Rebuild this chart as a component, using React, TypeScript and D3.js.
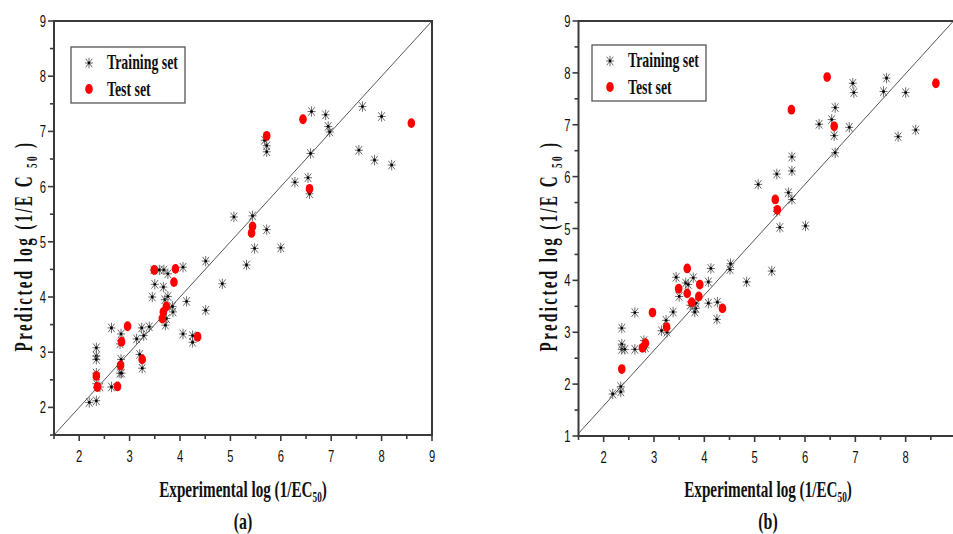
import React from "react";
import * as d3 from "d3";

// ---------- data ----------
const trainA: [number, number][] = [
  [2.2, 2.09], [2.34, 2.12], [2.34, 3.08], [2.34, 2.93], [2.34, 2.87], [2.34, 2.62], [2.34, 2.43],
  [2.41, 2.37], [2.64, 2.37], [2.64, 3.44], [2.83, 3.33], [2.81, 3.15], [2.83, 2.87], [2.81, 2.62],
  [2.84, 2.62], [3.14, 3.24], [3.24, 3.44], [3.28, 3.3], [3.2, 2.96], [3.25, 2.71], [3.39, 3.46],
  [3.45, 4.0], [3.5, 4.23], [3.48, 4.49], [3.59, 4.49], [3.68, 4.49], [3.67, 4.18], [3.7, 3.95],
  [3.76, 4.01], [3.76, 4.42], [3.71, 3.49], [3.73, 3.61], [3.86, 3.73], [3.85, 3.83], [4.06, 4.54],
  [4.13, 3.92], [4.06, 3.33], [4.25, 3.3], [4.25, 3.18], [4.51, 3.76], [4.51, 4.65], [4.84, 4.24],
  [5.07, 5.45], [5.32, 4.58], [5.44, 5.47], [5.48, 4.88], [5.72, 5.22], [6.0, 4.89], [5.68, 6.84],
  [5.72, 6.74], [5.72, 6.63], [6.28, 6.08], [6.54, 6.16], [6.57, 5.87], [6.59, 6.6], [6.61, 7.36],
  [6.89, 7.3], [6.94, 7.09], [6.97, 6.99], [7.55, 6.66], [7.62, 7.45], [7.86, 6.48], [8.0, 7.27],
  [8.2, 6.39],
];
const testA: [number, number][] = [
  [2.34, 2.57], [2.36, 2.37], [2.76, 2.38], [2.82, 2.76], [2.84, 3.19], [2.96, 3.47], [3.25, 2.87],
  [3.49, 4.49], [3.65, 3.61], [3.67, 3.73], [3.73, 3.83], [3.88, 4.27], [3.91, 4.51], [4.35, 3.28],
  [5.42, 5.16], [5.44, 5.28], [5.72, 6.92], [6.44, 7.22], [6.57, 5.96], [8.59, 7.15],
];
const trainB: [number, number][] = [
  [2.18, 1.81], [2.34, 1.95], [2.34, 1.85], [2.36, 3.08], [2.36, 2.77], [2.36, 2.67], [2.42, 2.67],
  [2.62, 2.67], [2.62, 3.38], [2.8, 2.84], [2.83, 2.7], [3.15, 3.03], [3.24, 3.23], [3.26, 3.0],
  [3.38, 3.39], [3.44, 4.06], [3.5, 3.69], [3.63, 3.95], [3.68, 3.92], [3.78, 4.05], [3.72, 3.52],
  [3.83, 3.46], [3.83, 3.56], [3.81, 3.39], [4.08, 3.97], [4.13, 4.23], [4.08, 3.56], [4.26, 3.58],
  [4.25, 3.25], [4.51, 4.21], [4.52, 4.32], [4.84, 3.97], [5.07, 5.85], [5.34, 4.18], [5.44, 6.05],
  [5.44, 5.33], [5.5, 5.02], [5.67, 5.69], [5.74, 5.56], [5.74, 6.11], [5.74, 6.38], [6.01, 5.05],
  [6.28, 7.01], [6.53, 7.1], [6.6, 7.33], [6.58, 6.79], [6.6, 6.46], [6.88, 6.95], [6.95, 7.8],
  [6.97, 7.62], [7.56, 7.64], [7.62, 7.9], [7.85, 6.77], [8.0, 7.62], [8.2, 6.9],
];
const testB: [number, number][] = [
  [2.36, 2.29], [2.77, 2.7], [2.83, 2.79], [2.97, 3.38], [3.25, 3.1], [3.49, 3.84], [3.66, 4.23],
  [3.66, 3.75], [3.75, 3.58], [3.89, 3.69], [3.91, 3.92], [4.36, 3.46], [5.41, 5.56], [5.45, 5.36],
  [5.73, 7.29], [6.44, 7.92], [6.58, 6.97], [8.6, 7.8],
];
const lineA: [number, number][] = [[1.5, 1.5], [9, 9]];
const lineB: [number, number][] = [[1.5, 1.05], [8.95, 9]];
const xTicks = [2, 3, 4, 5, 6, 7, 8, 9];
const yTicksA = [2, 3, 4, 5, 6, 7, 8, 9];
const yTicksB = [1, 2, 3, 4, 5, 6, 7, 8, 9];
const legendLabels = ["Training set", "Test set"];
const panelLabels = ["(a)", "(b)"];

// ---------- layout ----------
const W = 953, H = 534;
const serif = "'Liberation Serif', 'Times New Roman', serif";
const sans = "'Liberation Sans', Arial, sans-serif";
const AX = "#3a3a3a";
const SQ = 0.66; // horizontal condensation of all text

type PanelCfg = {
  xr: [number, number]; yr: [number, number]; yd: [number, number];
  yTicks: number[]; train: [number, number][]; test: [number, number][]; line: [number, number][];
  legend: [number, number]; label: string; titleCx: number; yTitleX: number;
};

function Star({ x, y }: { x: number; y: number }) {
  const a = 4, b = 5.2, c = 3.3, d = 4.3;
  return (
    <g>
      <g stroke="#555" strokeWidth={1} opacity={0.85}>
        <line x1={x} y1={y - b} x2={x} y2={y + b} />
        <line x1={x - a} y1={y} x2={x + a} y2={y} />
        <line x1={x - c} y1={y - d} x2={x + c} y2={y + d} />
        <line x1={x - c} y1={y + d} x2={x + c} y2={y - d} />
      </g>
      <circle cx={x} cy={y} r={1.4} fill="#000" />
    </g>
  );
}

function Dot({ x, y }: { x: number; y: number }) {
  return <ellipse cx={x} cy={y} rx={3.8} ry={4.9} fill="#ff0000" />;
}

function SqText({ x, y, size, anchor, children, weight, family }: any) {
  return (
    <text transform={`translate(${x},${y}) scale(${SQ},1)`} fontFamily={family} fontWeight={weight}
      fontSize={size} textAnchor={anchor} fill="#111">{children}</text>
  );
}

function Panel({ p }: { p: PanelCfg }) {
  const x = d3.scaleLinear().domain([1.5, 9]).range(p.xr);
  const y = d3.scaleLinear().domain(p.yd).range(p.yr);
  const [x0, x1] = p.xr;
  const [y0, y1] = p.yr;
  const xMinor = d3.range(1.5, 9.01, 0.5).filter((v) => !Number.isInteger(v));
  const yMinor = d3.range(p.yd[0], 9.01, 0.5).filter((v) => !Number.isInteger(v));
  const ln = d3.line<[number, number]>().x((d) => x(d[0])).y((d) => y(d[1]));
  const [lx, ly] = p.legend;
  return (
    <g>
      <path d={ln(p.line) || ""} stroke="#444" strokeWidth={0.9} fill="none" />
      {p.train.map((d, i) => <Star key={"t" + i} x={x(d[0])} y={y(d[1])} />)}
      {p.test.map((d, i) => <Dot key={"s" + i} x={x(d[0])} y={y(d[1])} />)}
      <rect x={x0} y={y1} width={x1 - x0} height={y0 - y1} fill="none" stroke={AX} strokeWidth={2} />
      {xTicks.map((t) => (
        <g key={"xt" + t}>
          <line x1={x(t)} x2={x(t)} y1={y0} y2={y0 + 6} stroke={AX} strokeWidth={1.6} />
          <SqText x={x(t)} y={y0 + 27} size={17} anchor="middle" family={sans}>{t}</SqText>
        </g>
      ))}
      {xMinor.map((t) => (
        <line key={"xm" + t} x1={x(t)} x2={x(t)} y1={y0} y2={y0 + 4} stroke={AX} strokeWidth={1.6} />
      ))}
      {p.yTicks.map((t) => (
        <g key={"yt" + t}>
          <line x1={x0 - 6} x2={x0} y1={y(t)} y2={y(t)} stroke={AX} strokeWidth={1.6} />
          <SqText x={x0 - 8} y={y(t) + 6} size={17} anchor="end" family={sans}>{t}</SqText>
        </g>
      ))}
      {yMinor.map((t) => (
        <line key={"ym" + t} x1={x0 - 4} x2={x0} y1={y(t)} y2={y(t)} stroke={AX} strokeWidth={1.6} />
      ))}
      <SqText x={p.titleCx} y={497} size={23} anchor="middle" weight="bold" family={serif}>
        Experimental log (1/EC<tspan dy={5} fontSize={14}>50</tspan><tspan dy={-5}>)</tspan>
      </SqText>
      <SqText x={p.titleCx} y={529} size={24} anchor="middle" weight="bold" family={serif}>{p.label}</SqText>
      <text transform={`translate(${p.yTitleX},246) rotate(-90) scale(0.6,1)`} fontFamily={serif} fontWeight="bold"
        fontSize={25} textAnchor="middle" letterSpacing={4} fill="#111">
        Predicted log (1/E C <tspan fontSize={15} dy={5}>50</tspan><tspan dy={-5}> )</tspan>
      </text>
      <rect x={lx} y={ly} width={114} height={56} fill="#fff" stroke="#555" strokeWidth={1.3} />
      <Star x={lx + 18} y={ly + 16} />
      <SqText x={lx + 36} y={ly + 22} size={21} anchor="start" weight="bold" family={serif}>{legendLabels[0]}</SqText>
      <Dot x={lx + 18} y={ly + 42} />
      <SqText x={lx + 36} y={ly + 49} size={21} anchor="start" weight="bold" family={serif}>{legendLabels[1]}</SqText>
    </g>
  );
}

export default function App() {
  const panels: PanelCfg[] = [
    { xr: [54, 432], yr: [435, 21], yd: [1.5, 9], yTicks: yTicksA, train: trainA, test: testA, line: lineA,
      legend: [71, 47], label: panelLabels[0], titleCx: 243, yTitleX: 32 },
    { xr: [578.5, 956], yr: [436, 21], yd: [1, 9], yTicks: yTicksB, train: trainB, test: testB, line: lineB,
      legend: [592, 45], label: panelLabels[1], titleCx: 768, yTitleX: 557 },
  ];
  return (
    <svg width={W} height={H} style={{ position: "absolute", left: 0, top: 0, background: "#fff" }}>
      <rect width={W} height={H} fill="#fff" />
      {panels.map((p, i) => <Panel key={i} p={p} />)}
    </svg>
  );
}
